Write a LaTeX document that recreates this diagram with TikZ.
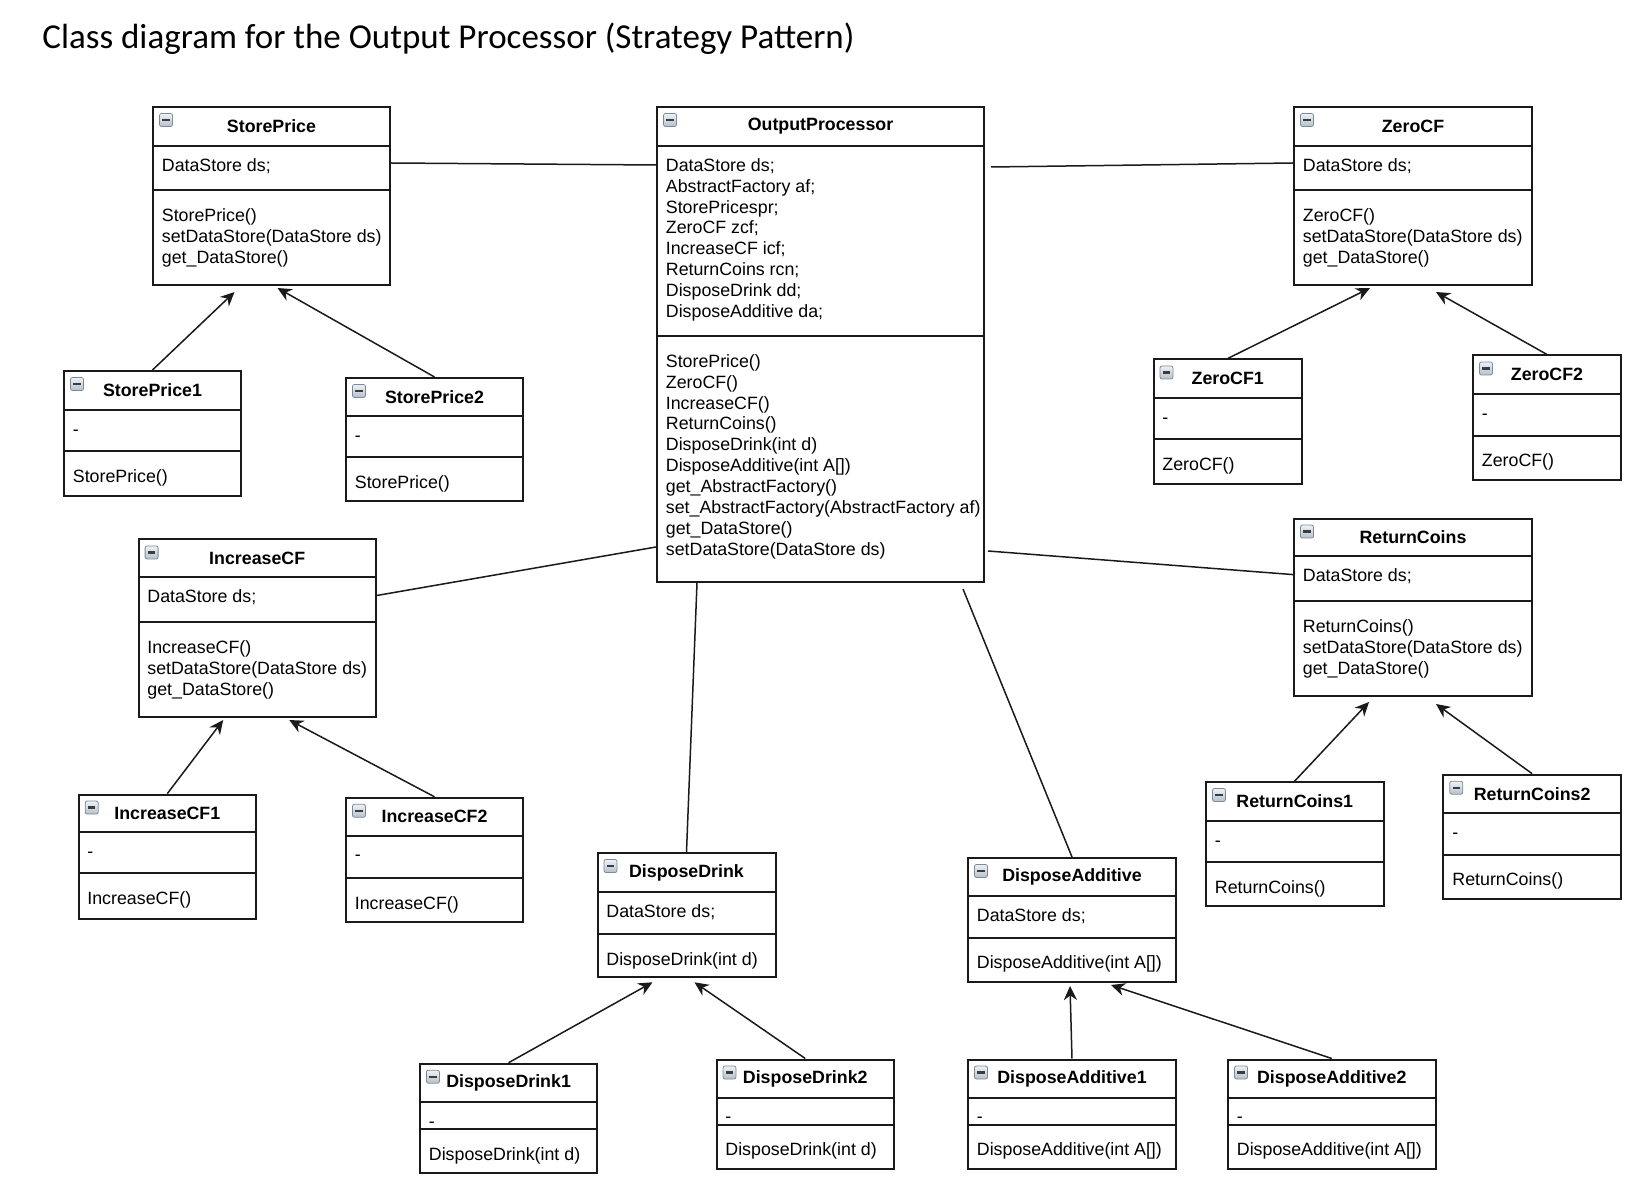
\documentclass[tikz,border=0pt]{standalone}
\usepackage{fontspec}
\setmainfont{Liberation Sans}
\newfontfamily\titlefont{Carlito}
\usetikzlibrary{arrows.meta,positioning,fit,calc}
\definecolor{umlline}{HTML}{1A1A1A}
\definecolor{iconedge}{HTML}{7D8A96}
\definecolor{icontop}{HTML}{EEF2F6}
\definecolor{iconbottom}{HTML}{B4C0CC}
\definecolor{iconbar}{HTML}{3C3C3C}

\tikzset{
  classbox/.style={draw=umlline,line width=1pt,inner sep=0pt},
  boxline/.style={draw=umlline,line width=1pt},
  classname/.style={font=\bfseries\fontsize{8.9}{10.4}\selectfont,inner sep=0pt},
  member/.style={font=\fontsize{8.9}{10.4}\selectfont,inner sep=0pt,anchor=base west},
  minusicon/.style={draw=iconedge,rounded corners=1pt,top color=icontop,bottom color=iconbottom,
    minimum size=6.5pt,inner sep=0pt,line width=0.4pt,
    path picture={\draw[iconbar,line width=1.1pt] ([xshift=-1.8pt]path picture bounding box.center) -- ([xshift=1.8pt]path picture bounding box.center);}},
  assoc/.style={draw=umlline,line width=0.75pt},
  inherit/.style={assoc,-{Stealth[length=7pt,width=6.5pt]}}
}

% one class frame: name, x1, y1, x2, y2, header line, separator, class name
\newcommand{\umlclass}[8]{%
  \node[classbox,fit={(#2,#3) (#4,#5)}] (#1) {};
  \draw[boxline] (#2,#6) -- (#4,#6);
  \draw[boxline] (#2,#7) -- (#4,#7);
  \node[minusicon] (#1-icon) at ($(#2,#3)+(13,13)$) {};
  \node[classname] (#1-name) at ($(#2,#3)!0.5!(#4,#6)$) {#8};
}
% member lines: prefix, x, first baseline, lines
\newcommand{\members}[4]{%
  \foreach \txt [count=\i] in {#4} {
    \node[member] (#1-\i) at (#2,{#3+20.85*(\i-1)}) {\txt};
  }
}

\begin{document}
\begin{tikzpicture}[x=0.5pt,y=-0.5pt]
\useasboundingbox (0,0) rectangle (1646,1192);
\node[anchor=base west,inner sep=0pt,font=\titlefont\fontsize{17.5}{21}\selectfont] (title) at (42,49)
  {Class diagram for the Output Processor (Strategy Pattern)};

% top row
\umlclass{sp}{153}{107}{390}{285}{146}{190}{StorePrice}
\members{sp-a}{161.5}{171.4}{DataStore ds;}
\members{sp-m}{161.5}{221.4}{StorePrice(),setDataStore(DataStore ds),get\_DataStore()}

\umlclass{op}{657}{107}{984}{582}{146}{336}{OutputProcessor}
\members{op-a}{665.5}{171.4}{DataStore ds;,AbstractFactory af;,StorePricespr;,ZeroCF zcf;,IncreaseCF icf;,ReturnCoins rcn;,DisposeDrink dd;,DisposeAdditive da;}
\members{op-m}{665.5}{367.4}{StorePrice(),ZeroCF(),IncreaseCF(),ReturnCoins(),DisposeDrink(int d),DisposeAdditive(int A[]),get\_AbstractFactory(),set\_AbstractFactory(AbstractFactory af),get\_DataStore(),setDataStore(DataStore ds)}

\umlclass{zcf}{1294}{107}{1532}{285}{146}{190}{ZeroCF}
\members{zcf-a}{1302.5}{171.4}{DataStore ds;}
\members{zcf-m}{1302.5}{221.4}{ZeroCF(),setDataStore(DataStore ds),get\_DataStore()}

% strategies of the top row
\umlclass{sp1}{64}{371}{241}{496}{410}{451.5}{StorePrice1}
\members{sp1-a}{72.5}{435.4}{-}
\members{sp1-m}{72.5}{482.9}{StorePrice()}

\umlclass{sp2}{346}{378}{523}{501}{416}{457.5}{StorePrice2}
\members{sp2-a}{354.5}{441.4}{-}
\members{sp2-m}{354.5}{488.9}{StorePrice()}

\umlclass{zcf1}{1153.5}{359.5}{1302}{484}{398}{439.5}{ZeroCF1}
\members{zcf1-a}{1162}{423.4}{-}
\members{zcf1-m}{1162}{470.9}{ZeroCF()}

\umlclass{zcf2}{1473}{355.5}{1621}{480}{394}{435.6}{ZeroCF2}
\members{zcf2-a}{1481.5}{419.4}{-}
\members{zcf2-m}{1481.5}{467}{ZeroCF()}

% middle row
\umlclass{icf}{138.6}{539.5}{375.8}{717}{577.3}{622.5}{IncreaseCF}
\members{icf-a}{147}{602.7}{DataStore ds;}
\members{icf-m}{147}{653.9}{IncreaseCF(),setDataStore(DataStore ds),get\_DataStore()}

\umlclass{rc}{1294}{518.6}{1532}{696}{556.3}{601.5}{ReturnCoins}
\members{rc-a}{1302.5}{581.7}{DataStore ds;}
\members{rc-m}{1302.5}{632.9}{ReturnCoins(),setDataStore(DataStore ds),get\_DataStore()}

\umlclass{icf1}{78.7}{794.6}{256}{918.5}{832.4}{873.3}{IncreaseCF1}
\members{icf1-a}{87}{857.8}{-}
\members{icf1-m}{87}{904.7}{IncreaseCF()}

\umlclass{icf2}{346}{797.8}{523}{921.6}{835.6}{877.6}{IncreaseCF2}
\members{icf2-a}{354.5}{861}{-}
\members{icf2-m}{354.5}{909}{IncreaseCF()}

\umlclass{rc1}{1206}{782}{1383.5}{906}{821}{862}{ReturnCoins1}
\members{rc1-a}{1214.5}{846.4}{-}
\members{rc1-m}{1214.5}{893.4}{ReturnCoins()}

\umlclass{rc2}{1443.3}{774.7}{1621}{898.5}{813.5}{854.5}{ReturnCoins2}
\members{rc2-a}{1452}{838.9}{-}
\members{rc2-m}{1452}{885.9}{ReturnCoins()}

% bottom
\umlclass{dd}{597.5}{853}{775.5}{977.3}{892}{933.7}{DisposeDrink}
\members{dd-a}{606}{917.4}{DataStore ds;}
\members{dd-m}{606}{965.1}{DisposeDrink(int d)}

\umlclass{da}{968}{858}{1176}{982}{896}{937.5}{DisposeAdditive}
\members{da-a}{976.5}{921.4}{DataStore ds;}
\members{da-m}{976.5}{968.9}{DisposeAdditive(int A[])}

\umlclass{dd1}{419.9}{1063.7}{597.3}{1172.7}{1101.7}{1128.7}{DisposeDrink1}
\members{dd1-a}{428.5}{1127.1}{-}
\members{dd1-m}{428.5}{1160.1}{DisposeDrink(int d)}

\umlclass{dd2}{716.5}{1059.5}{894}{1168.5}{1097.5}{1124.5}{DisposeDrink2}
\members{dd2-a}{725}{1122.9}{-}
\members{dd2-m}{725}{1155.9}{DisposeDrink(int d)}

\umlclass{da1}{968}{1059.5}{1176}{1168.5}{1097.5}{1124.5}{DisposeAdditive1}
\members{da1-a}{976.5}{1122.9}{-}
\members{da1-m}{976.5}{1155.9}{DisposeAdditive(int A[])}

\umlclass{da2}{1228}{1059.5}{1435.5}{1168.5}{1097.5}{1124.5}{DisposeAdditive2}
\members{da2-a}{1236.5}{1122.9}{-}
\members{da2-m}{1236.5}{1155.9}{DisposeAdditive(int A[])}

% associations of the context
\draw[assoc] ($(sp.north east)+(0,57)$) -- ($(op.north west)+(0,59)$);
\draw[assoc] ($(op.north east)+(6,61)$) -- ($(zcf.north west)+(0,57)$);
\draw[assoc] ($(icf.north east)+(0,57)$) -- ($(op.south west)+(0,-36)$);
\draw[assoc] ($(op.south east)+(3,-32)$) -- ($(rc.north west)+(0,57)$);
\draw[assoc] ($(op.south west)+(41,0)$) -- (dd.north);
\draw[assoc] ($(op.south east)+(-22,6)$) -- (da.north);

% generalisations
\foreach \child/\parent/\dx/\dy in {sp1/sp/-37/6,sp2/sp/6/2,zcf1/zcf/-43/2,zcf2/zcf/23/6,
    icf1/icf/-34/2,icf2/icf/32/2,rc1/rc/-44/5,rc2/rc/23/7,
    dd1/dd/-34/4,dd2/dd/8/4,da1/da/-2/3,da2/da/39/2}
  \draw[inherit] (\child.north) -- ($(\parent.south)+(\dx,\dy)$);
\end{tikzpicture}
\end{document}
